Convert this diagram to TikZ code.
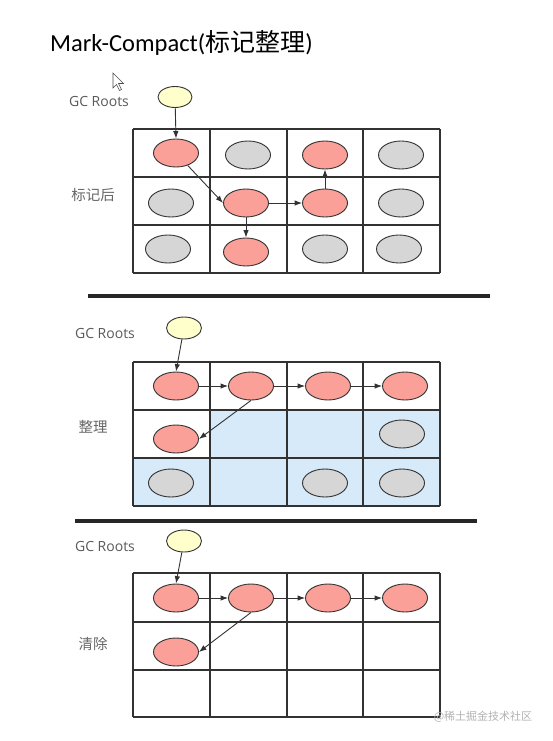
\documentclass[tikz,border=0pt]{standalone}
\usepackage{fontspec}
\setmainfont{Open Sans}
\newfontfamily\titlefont{Carlito}
\newfontfamily\cjk{Noto Sans CJK SC}
\usetikzlibrary{shapes.geometric,arrows.meta}
\definecolor{objred}{RGB}{250,160,152}
\definecolor{objgray}{RGB}{214,214,214}
\definecolor{rootyellow}{RGB}{255,255,204}
\definecolor{freeblue}{RGB}{214,234,250}
\definecolor{inkgray}{RGB}{50,50,50}

\begin{document}
\begin{tikzpicture}[x=1pt,y=-1pt,
  obj/.style={ellipse,draw=inkgray,line width=0.9pt,inner sep=0pt,minimum width=45pt,minimum height=28pt},
  redobj/.style={obj,fill=objred},
  grayobj/.style={obj,fill=objgray},
  rootobj/.style={ellipse,draw=inkgray,line width=0.9pt,fill=rootyellow,inner sep=0pt,minimum width=35pt,minimum height=22pt},
  ptr/.style={-{Latex[length=7.5pt,width=5.5pt]},draw=inkgray,line width=0.9pt},
  rootlbl/.style={text=black!65,font=\fontsize{14}{16}\selectfont},
  steplbl/.style={text=black!60,font=\cjk\fontsize{14.5}{16}\selectfont},
  cell/.style={draw=inkgray,line width=1.1pt},
  sepline/.style={draw=black!85,line width=4pt}]
\useasboundingbox (0,0) rectangle (552,741);

% title
\node[anchor=west,inner sep=0pt] (title) at (50,43)
  {\titlefont\fontsize{24.5}{28}\selectfont Mark-Compact({\cjk\fontsize{25}{28}\selectfont 标记整理})};
% mouse pointer left in the screenshot
\draw[black!70,fill=white,line width=0.6pt] (113,73) -- (113,88) -- (116.5,84.5) -- (119.5,90.5) -- (121.5,89.5) -- (118.5,83.5) -- (123.5,83.5) -- cycle;

% ---- after marking
\node[rootlbl] (mlbl) at (99,101) {GC Roots};
\node[rootobj,minimum width=34pt,minimum height=21pt] (mroot) at (175,97) {};
\foreach \x in {133,210,287,363,440} \draw[cell] (\x,129) -- (\x,273);
\foreach \y in {129,177,225,273} \draw[cell] (133,\y) -- (440,\y);
\node[steplbl] (mstep) at (93,195) {标记后};

\node[redobj]  (m11) at (176,153) {};
\node[grayobj] (m12) at (248,155) {};
\node[redobj]  (m13) at (325,155) {};
\node[grayobj] (m14) at (401,155) {};
\node[grayobj] (m21) at (171,203) {};
\node[redobj]  (m22) at (246,203) {};
\node[redobj]  (m23) at (325,203) {};
\node[grayobj] (m24) at (401,203) {};
\node[grayobj] (m31) at (168,249) {};
\node[redobj]  (m32) at (246,252) {};
\node[grayobj] (m33) at (325,249) {};
\node[grayobj] (m34) at (399,249) {};

\draw[ptr] (mroot) -- (m11.north);
\draw[ptr] (m11) -- (m22.west);
\draw[ptr] (m22) -- (m23);
\draw[ptr] (m22) -- (m32);
\draw[ptr] (m23) -- (m13);

\draw[sepline] (88,296) -- (490,296);

% ---- compacting
\node[rootlbl] (clbl) at (105,333) {GC Roots};
\node[rootobj] (croot) at (184,328) {};
\fill[freeblue] (210,410) rectangle (440,458);
\fill[freeblue] (133,458) rectangle (440,506);
\foreach \x in {133,210,287,363,440} \draw[cell] (\x,362) -- (\x,506);
\foreach \y in {362,410,458,506} \draw[cell] (133,\y) -- (440,\y);
\node[steplbl] (cstep) at (93,427) {整理};

\node[redobj]  (c11) at (176,386) {};
\node[redobj]  (c12) at (251,386) {};
\node[redobj]  (c13) at (328,386) {};
\node[redobj]  (c14) at (405,386) {};
\node[redobj]  (c21) at (176,439) {};
\node[grayobj] (c24) at (402,434) {};
\node[grayobj] (c31) at (171,483) {};
\node[grayobj] (c33) at (325,483) {};
\node[grayobj] (c34) at (402,483) {};

\draw[ptr] (croot) -- (c11.north);
\draw[ptr] (c11) -- (c12);
\draw[ptr] (c12) -- (c13);
\draw[ptr] (c13) -- (c14);
\draw[ptr] (c12.south) -- (c21.east);

\draw[sepline] (75,521) -- (477,521);

% ---- sweeping
\node[rootlbl] (slbl) at (105,546) {GC Roots};
\node[rootobj] (sroot) at (184,541) {};
\foreach \x in {133,210,287,363,440} \draw[cell] (\x,573) -- (\x,717);
\foreach \y in {573,622,670,717} \draw[cell] (133,\y) -- (440,\y);
\node[steplbl] (sstep) at (93,644) {清除};

\node[redobj] (s11) at (176,598) {};
\node[redobj] (s12) at (251,598) {};
\node[redobj] (s13) at (328,598) {};
\node[redobj] (s14) at (405,598) {};
\node[redobj] (s21) at (176,652) {};

\draw[ptr] (sroot) -- (s11.north);
\draw[ptr] (s11) -- (s12);
\draw[ptr] (s12) -- (s13);
\draw[ptr] (s13) -- (s14);
\draw[ptr] (s12.south) -- (s21.east);

\node[text=black!30,font=\cjk\fontsize{11}{13}\selectfont] (mark) at (483,717) {@稀土掘金技术社区};
\end{tikzpicture}
\end{document}
